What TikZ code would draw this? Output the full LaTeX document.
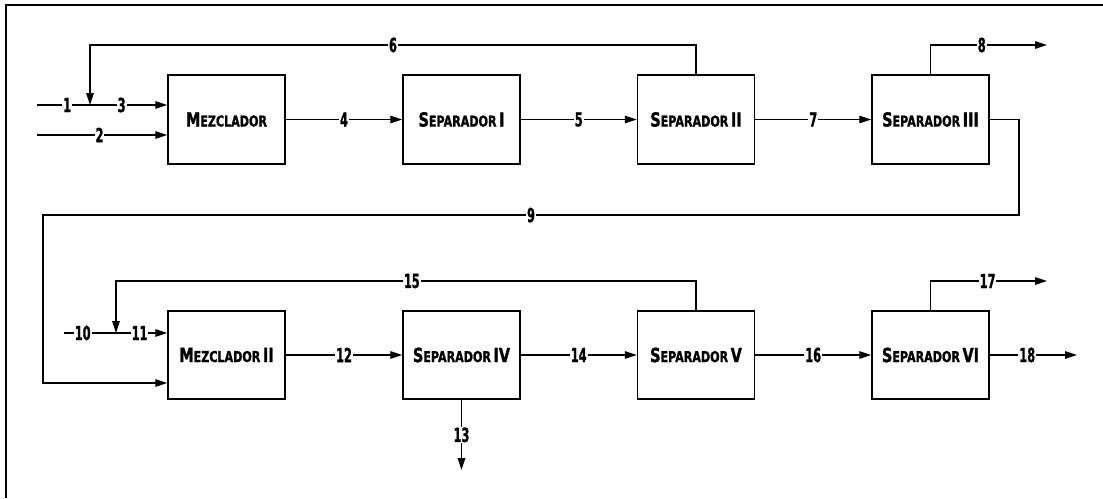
\documentclass[tikz,border=0pt]{standalone}
\usepackage{fontspec}
\usetikzlibrary{arrows.meta}
\newfontfamily\dfont[FakeStretch=0.74,FakeBold=1.2,UprightFont={* Bold}]{DejaVu Sans}
\newfontfamily\nfont[FakeStretch=0.58,FakeBold=1.2,UprightFont={* Bold}]{DejaVu Sans}
\newcommand{\scap}[2]{{\fontsize{19.5}{19.5}\selectfont #1}{\fontsize{15}{15}\selectfont #2}}
\begin{document}
\begin{tikzpicture}[x=1pt,y=-1pt,
  unit/.style={draw,line width=1.5pt,minimum width=117pt,minimum height=89pt,inner sep=0pt,font=\dfont},
  flow/.style={line width=1.2pt,-{Triangle[length=12pt,width=7.5pt]}},
  plain/.style={line width=1.2pt},
  lab/.style={fill=white,inner sep=1pt,font=\nfont\fontsize{19.5}{19.5}\selectfont}]
\useasboundingbox (0,0) rectangle (1103,498);
\draw[line width=2.4pt] (6,498) -- (6,5) -- (1103,5);
% row 1
\node[unit] (mez) at (226.5,119.5) {\scap{M}{EZCLADOR}};
\node[unit] (s1) at (461.5,119.5) {\scap{S}{EPARADOR} \scap{I}{}};
\node[unit] (s2) at (696,119.5) {\scap{S}{EPARADOR} \scap{II}{}};
\node[unit] (s3) at (930.5,119.5) {\scap{S}{EPARADOR} \scap{III}{}};
% row 2
\node[unit,minimum height=88pt] (mez2) at (226.5,355) {\scap{M}{EZCLADOR} \scap{II}{}};
\node[unit,minimum height=88pt] (s4) at (461.5,355) {\scap{S}{EPARADOR} \scap{IV}{}};
\node[unit,minimum height=88pt] (s5) at (696,355) {\scap{S}{EPARADOR} \scap{V}{}};
\node[unit,minimum height=88pt] (s6) at (930.5,355) {\scap{S}{EPARADOR} \scap{VI}{}};
% coordinates
\coordinate (in1) at (37,105);
\coordinate (j1) at (90,105);
\coordinate (in2) at (37,135);
\coordinate (in10) at (64,333);
\coordinate (j2) at (116,333);
\coordinate (o8) at (1047,45);
\coordinate (o17) at (1047,281);
\coordinate (o18) at (1077,355);
\coordinate (o13) at (461.5,470);
% streams row 1
\draw[plain] (in1) -- node[lab,pos=0.57]{1} (j1);
\draw[flow] (j1) -- node[lab,pos=0.41]{3} (j1 -| mez.west);
\draw[flow] (in2) -- node[lab,pos=0.48]{2} (in2 -| mez.west);
\draw[flow] (s2.north) -- (s2.north |- 0,45) -- node[lab]{6} (j1 |- 0,45) -- (j1);
\draw[flow] (mez.east) -- node[lab]{4} (s1.west);
\draw[flow] (s1.east) -- node[lab]{5} (s2.west);
\draw[flow] (s2.east) -- node[lab]{7} (s3.west);
\draw[flow] (s3.north) -- (s3.north |- o8) -- node[lab,pos=0.44]{8} (o8);
\draw[flow] (s3.east) -- (1019,119.5) -- (1019,215) -- node[lab]{9} (43,215) -- (43,383) -- (mez2.west |- 0,383);
% streams row 2
\draw[plain] (in10) -- node[lab,pos=0.36]{10} (j2);
\draw[flow] (j2) -- node[lab,pos=0.46]{11} (j2 -| mez2.west);
\draw[flow] (s5.north) -- (s5.north |- 0,281) -- node[lab,pos=0.49]{15} (j2 |- 0,281) -- (j2);
\draw[flow] (mez2.east) -- node[lab]{12} (s4.west);
\draw[flow] (s4.east) -- node[lab]{14} (s5.west);
\draw[flow] (s5.east) -- node[lab]{16} (s6.west);
\draw[flow] (s6.north) -- (s6.north |- o17) -- node[lab,pos=0.49]{17} (o17);
\draw[flow] (s6.east) -- node[lab,pos=0.43]{18} (o18);
\draw[flow] (s4.south) -- node[lab]{13} (o13);
\end{tikzpicture}
\end{document}
